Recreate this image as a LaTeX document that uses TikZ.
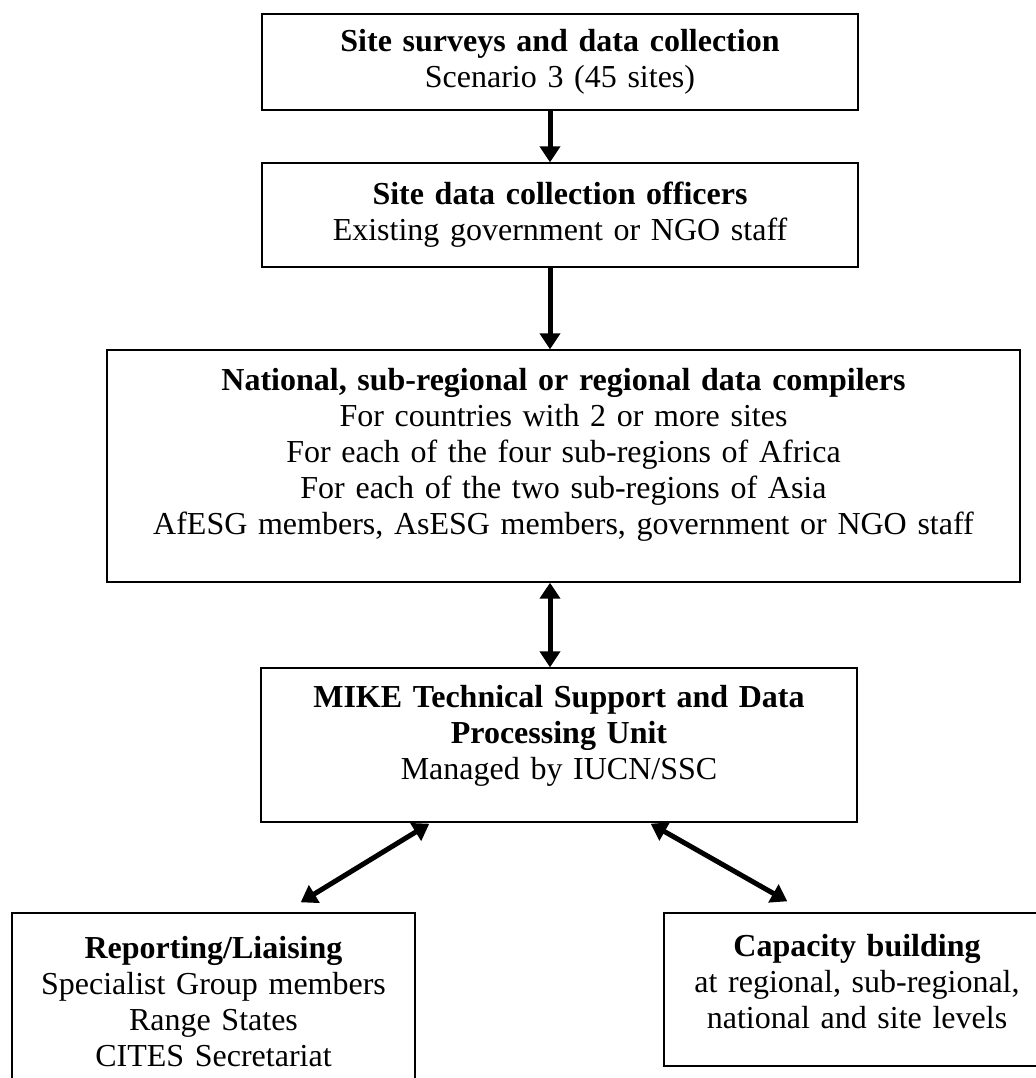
\documentclass[tikz,border=0pt]{standalone}
\usepackage{fontspec}
\setmainfont{Liberation Serif}
\usetikzlibrary{arrows.meta}

\tikzset{
  box/.style={draw, line width=0.7pt, inner xsep=0pt, inner ysep=2pt, align=center,
    font=\fontsize{16}{18}\selectfont},
  botpad/.style={execute at end node={\par\vspace*{#1}}},
  flow/.style={line width=2.5pt, -{Triangle[width=10pt,length=8pt]}},
  twoway/.style={line width=2.5pt, {Triangle[width=10pt,length=8pt]}-{Triangle[width=10pt,length=8pt]}}
}

\begin{document}
\begin{tikzpicture}[x=0.5pt, y=-0.5pt]

\useasboundingbox (0,0) rectangle (1036,1078);

%% main column
\node[box, text width=298pt, minimum height=48pt] (sites) at (560,62)
  {\textbf{Site surveys and data collection}\\Scenario 3 (45 sites)};
\node[box, text width=298pt, minimum height=52pt] (officers) at (560,215)
  {\textbf{Site data collection officers}\\Existing government or NGO staff};
\node[box, text width=456.5pt, minimum height=116pt, botpad=11pt] (compilers) at (563.5,466)
  {\textbf{National, sub-regional or regional data compilers}\\
   For countries with 2 or more sites\\
   For each of the four sub-regions of Africa\\
   For each of the two sub-regions of Asia\\
   AfESG members, AsESG members, government or NGO staff};
\node[box, text width=298pt, minimum height=77pt, botpad=9pt] (unit) at (559,745)
  {\textbf{MIKE Technical Support and Data}\\\textbf{Processing Unit}\\Managed by IUCN/SSC};

%% bottom row
\node[box, text width=201.5pt, minimum height=89pt] (reporting) at (213.5,1002)
  {\textbf{Reporting/Liaising}\\Specialist Group members\\Range States\\CITES Secretariat};
\node[box, text width=193pt, minimum height=76.5pt, botpad=7.5pt] (capacity) at (857,989.5)
  {\textbf{Capacity building}\\at regional, sub-regional,\\national and site levels};

%% vertical arrows
\draw[flow] ([xshift=-5pt]sites.south) -- ([xshift=-5pt]officers.north);
\draw[flow] ([xshift=-5pt]officers.south) -- ([xshift=-5pt]officers.south |- compilers.north);
\draw[twoway] ([xshift=-4.5pt]unit.north |- compilers.south) -- ([xshift=-4.5pt]unit.north);

%% diagonal arrows
\draw[twoway] ([shift={(169,1)}]unit.south west) -- ([shift={(-115,-10)}]reporting.north east);
\draw[twoway] ([shift={(-207,1)}]unit.south east) -- ([shift={(124,-11)}]capacity.north west);

\end{tikzpicture}
\end{document}
